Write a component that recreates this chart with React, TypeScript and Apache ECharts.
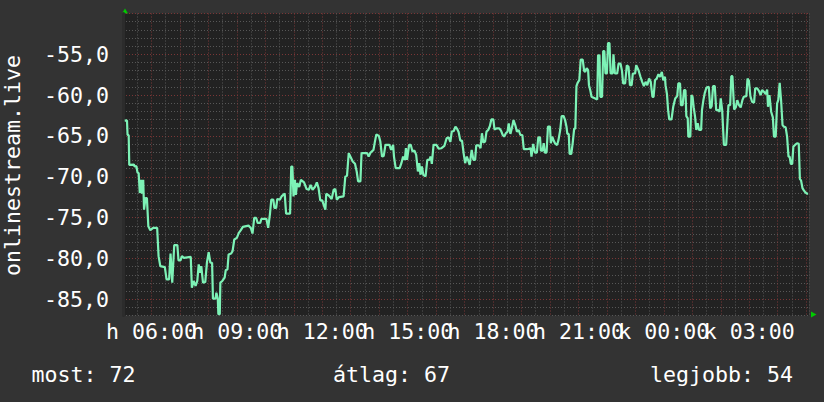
import React, { useEffect, useRef } from 'react';
import * as echarts from 'echarts';

const titleText = 'onlinestream.live';

const times: number[] = [
  5.06, 5.14, 5.16, 5.2, 5.22, 5.38, 5.41, 5.47, 5.51, 5.55, 5.59, 5.64, 5.67, 5.71, 5.74, 5.79, 5.84, 5.89, 5.96, 6.06,
  6.2, 6.25, 6.31, 6.47, 6.53, 6.62, 6.67, 6.73, 6.8, 6.91, 6.95, 7.02, 7.07, 7.14, 7.38, 7.42, 7.48, 7.55, 7.61, 7.66,
  7.71, 7.75, 7.81, 7.89, 7.95, 8.01, 8.07, 8.13, 8.16, 8.25, 8.28, 8.33, 8.35, 8.4, 8.42, 8.49, 8.57, 8.61, 8.67, 8.71,
  8.8, 8.85, 8.91, 9.0, 9.07, 9.14, 9.21, 9.41, 9.49, 9.55, 9.61, 9.68, 9.73, 9.82,
  9.86, 10.04, 10.1, 10.16, 10.21, 10.28, 10.32, 10.38, 10.42, 10.51, 10.57, 10.68, 10.73, 10.87, 10.91, 10.95, 10.99,
  11.04, 11.07, 11.12, 11.19, 11.25, 11.36, 11.45, 11.53, 11.59, 11.66, 11.74, 11.81, 11.87, 11.93, 12.0, 12.06, 12.11,
  12.14, 12.24, 12.33, 12.4, 12.46, 12.51, 12.59, 12.75, 12.81, 12.87, 12.93, 13.0, 13.07, 13.15, 13.21, 13.26, 13.34,
  13.38, 13.58, 13.63, 13.7, 13.8, 13.85, 13.9, 13.99, 14.04, 14.1, 14.16, 14.22, 14.36, 14.42,
  14.49, 14.52, 14.58, 14.72, 14.78, 14.84, 14.9, 14.94, 14.98, 15.05, 15.11, 15.17, 15.24, 15.3, 15.36, 15.41, 15.45,
  15.5, 15.55, 15.63, 15.69, 15.76, 15.81, 15.85, 15.91, 16.01, 16.09, 16.19, 16.29, 16.37, 16.44, 16.5, 16.55, 16.62,
  16.68, 16.74, 16.79, 16.85, 16.91, 16.97, 17.02, 17.08, 17.12, 17.18, 17.25, 17.31, 17.37, 17.41, 17.5, 17.56, 17.61,
  17.66, 17.72, 17.77, 17.83, 17.89, 17.94, 18.01, 18.05, 18.14, 18.22, 18.28, 18.34, 18.39, 18.45, 18.51, 18.55, 18.61,
  18.66, 18.72, 18.78, 18.84, 18.9, 18.96, 19.03, 19.08, 19.19,
  19.32, 19.35, 19.41, 19.47, 19.54, 19.59, 19.65, 19.68, 19.74, 19.78, 19.82, 19.88, 19.93, 20.0, 20.03, 20.08, 20.13,
  20.19, 20.25, 20.3, 20.36, 20.41, 20.48, 20.53, 20.58, 20.61, 20.66, 20.69, 20.75, 20.8, 20.85, 20.89, 20.93, 20.97,
  21.03, 21.08, 21.15, 21.2, 21.24, 21.29, 21.34, 21.37, 21.42, 21.46, 21.59, 21.66, 21.69, 21.74, 21.77, 21.83, 21.87,
  21.91, 21.95, 22.0, 22.04, 22.09, 22.13, 22.2, 22.23, 22.28, 22.36, 22.41, 22.48, 22.53, 22.57, 22.64, 22.7, 22.76,
  22.81, 22.87, 22.91, 22.99, 23.03, 23.11, 23.18, 23.24, 23.3, 23.36, 23.42, 23.48, 23.54, 23.6, 23.64, 23.69, 23.75,
  23.81, 23.87, 23.93, 23.98, 24.04,
  24.06, 24.11, 24.15, 24.19, 24.27, 24.33, 24.4, 24.47, 24.51, 24.57, 24.6, 24.66, 24.71, 24.76, 24.79, 24.84, 24.86,
  24.93, 24.97, 25.01, 25.05, 25.1, 25.14, 25.19, 25.24, 25.31, 25.34, 25.39, 25.44, 25.5, 25.58, 25.63, 25.68, 25.73,
  25.79, 25.84, 25.91, 25.96, 26.0, 26.05, 26.11, 26.19, 26.27, 26.33, 26.37, 26.41, 26.47, 26.53, 26.58, 26.64, 26.7,
  26.76, 26.81, 26.9, 26.94, 26.99, 27.04, 27.1, 27.17, 27.21, 27.28, 27.34, 27.4, 27.45, 27.52, 27.58, 27.63, 27.66,
  27.71, 27.77, 27.83, 27.87, 27.93, 27.98, 28.02, 28.07, 28.12, 28.17, 28.22, 28.28, 28.33, 28.38, 28.42, 28.46, 28.51,
  28.55, 28.61, 28.68, 28.74, 28.78, 28.82, 28.87, 28.92, 28.97, 29.03, 29.07,
];

const values: number[] = [
  -63.13, -63.1, -64.88, -64.9, -68.54, -68.5, -68.74, -68.7, -69.47, -69.55, -71.99, -70.37, -72.07, -70.37, -74.02,
  -72.6, -72.6, -76.06, -76.54, -76.26, -76.26, -79.72, -80.94, -81.06, -82.56, -82.56, -79.39, -82.97, -78.37, -78.37,
  -80.24, -80.24, -79.72, -79.92, -79.8, -83.58, -82.76, -83.37, -82.76, -80.73, -81.75, -80.94, -82.97, -82.89, -80.45,
  -79.23, -80.53, -80.53, -84.92, -84.92, -84.19, -84.92, -86.83, -86.83, -82.97, -82.76, -82.36, -81.42, -81.34, -79.51,
  -79.39, -79.11, -77.68, -77.48, -76.87, -76.54, -76.14, -75.98, -76.26, -76.95, -75.04, -75.04, -75.65, -75.65,
  -75.16, -75.16, -76.26, -74.63, -72.8, -72.8, -73.82, -73.82, -72.72, -72.8, -72.4, -72.07, -74.51, -74.51, -68.74,
  -68.74, -72.4, -70.37, -72.2, -70.77, -71.26, -70.37, -70.69, -71.5, -71.59, -70.98, -71.59, -71.26, -70.69, -71.38,
  -72.89, -72.89, -73.54, -74.02, -72.07, -72.32, -72.72, -71.59, -71.5, -72.8, -72.48, -72.4, -69.96, -69.88, -67.11,
  -67.6, -68.13, -68.41, -69.35, -70.57, -70.57, -67.11, -67.11, -67.52, -67.03, -66.71, -65.69, -64.8, -65.0, -65.69,
  -67.52, -67.44, -66.1, -66.1, -66.71,
  -66.1, -67.52, -68.94, -68.94, -68.33, -67.52, -67.93, -66.5, -67.93, -66.1, -66.1, -66.91, -66.79, -67.32, -69.35,
  -68.33, -69.75, -68.74, -69.75, -69.96, -67.93, -67.93, -67.52, -68.41, -66.1, -66.1, -66.54, -66.5, -66.22, -65.28,
  -65.16, -65.73, -64.47, -64.39, -63.86, -64.14, -64.51, -65.57, -65.57, -67.19, -68.33, -67.52, -67.93, -68.54, -66.71,
  -67.93, -67.93, -66.14, -66.14, -66.5, -64.67, -65.81, -65.69, -64.47, -64.27, -63.78, -62.97, -62.97, -64.19, -64.06,
  -64.06, -64.35, -64.88, -65.08, -64.67, -64.47, -63.45, -64.75, -64.06, -63.05, -63.66, -64.47, -64.27, -64.88, -64.88,
  -66.62, -66.62,
  -66.5, -67.52, -65.97, -67.03, -67.03, -65.16, -65.16, -66.79, -66.79, -65.89, -67.03, -67.03, -63.86, -63.86, -65.89,
  -65.08, -65.57, -65.97, -66.1, -65.48, -64.27, -62.56, -62.56, -63.05, -63.86, -64.75, -64.75, -67.19, -67.19, -65.81,
  -64.1, -64.1, -58.9, -58.49, -58.17, -55.65, -55.65, -57.03, -57.15, -56.7, -56.95, -58.78, -59.47, -60.2, -60.4,
  -60.53, -55.12, -55.12, -60.2, -60.2, -54.59, -54.59, -57.35, -57.35, -53.61, -53.61, -57.35, -57.35, -55.0, -57.35,
  -57.35, -56.14, -56.14, -57.03, -58.57, -58.57, -56.34, -56.54, -58.78, -58.78, -57.35, -57.35, -56.34, -56.95, -57.76,
  -58.37, -58.9, -58.37, -58.78, -57.97, -58.37, -60.2, -60.2, -58.17, -57.97, -57.44, -57.76, -57.15, -58.17, -57.76,
  -58.78, -59.87, -61.83, -62.96, -62.96, -61.42, -60.4, -60.12, -58.57, -58.57, -61.22, -61.22, -59.39, -59.39, -62.56,
  -62.84, -65.08, -65.08, -60.0, -60.2, -61.5, -62.72, -64.27, -63.45, -64.27, -64.27, -61.83, -60.61, -59.71, -59.06,
  -58.98, -61.62, -61.34, -58.9, -58.9, -61.83, -61.83, -62.03, -60.4, -61.83, -66.1, -66.1, -61.22, -61.22, -57.68,
  -57.68, -61.75, -61.5, -60.61, -61.22, -61.5, -60.61, -60.2, -60.12, -57.96, -58.25, -60.12, -60.81, -60.93, -59.18,
  -59.18, -59.47, -60.0, -59.39, -59.59, -59.87, -59.31, -61.42, -60.0, -62.03, -62.72, -65.08, -65.08, -61.01, -60.61,
  -58.49, -60.69, -63.66, -63.86, -63.94, -65.08, -67.52, -67.52, -68.41, -68.41, -66.3, -66.1, -65.89, -65.97, -70.28,
  -70.44, -71.38, -71.66, -71.91, -72.07, -72.07,
];

const xTickHours: number[] = [6, 9, 12, 15, 18, 21, 24, 27];
const dayLabels: string[] = ['h', 'k'];
const yTickValues: number[] = [-85, -80, -75, -70, -65, -60, -55];
const legendLabels: string[] = ['most', 'átlag', 'legjobb'];
const legendValues: number[] = [72, 67, 54];

const FONT = 'DejaVu Sans Mono';
const FS = 21.6;
const MINOR = '#575757';
const MAJOR = '#7a3636';

export default function App() {
  const ref = useRef<HTMLDivElement>(null);
  useEffect(() => {
    document.body.style.margin = '0';
    if (!ref.current) return;
    const chart = echarts.init(ref.current, null, { renderer: 'svg' });
    const pad = (n: number) => (n < 10 ? '0' + n : '' + n);
    const data = times.map((t, i) => [t, values[i]]);
    const legendText = (i: number, x: number, align: string) => ({
      type: 'text',
      x,
      y: 374,
      style: {
        text: `${legendLabels[i]}: ${legendValues[i]}`,
        fill: '#ffffff',
        font: `${FS}px "${FONT}"`,
        align,
        verticalAlign: 'middle',
      },
    });
    chart.setOption({
      animation: false,
      backgroundColor: '#333333',
      textStyle: { fontFamily: FONT },
      grid: {
        left: 123,
        right: 15,
        top: 13.5,
        bottom: 86.4,
        show: true,
        backgroundColor: '#222222',
        borderWidth: 0,
      },
      xAxis: {
        type: 'value',
        min: 5,
        max: 29.1,
        interval: 0.5,
        axisLine: { show: false },
        axisTick: { show: false },
        axisLabel: {
          color: '#ffffff',
          fontFamily: FONT,
          fontSize: FS,
          margin: 5,
          formatter: (v: number) => {
            const t = xTickHours.find((h) => Math.abs(h - v) < 1e-6);
            if (t === undefined) return '';
            return `${dayLabels[t < 24 ? 0 : 1]} ${pad(t % 24)}:00`;
          },
        },
        splitLine: {
          show: true,
          lineStyle: { color: [MAJOR, MINOR], type: [1, 2], width: 1 },
        },
      },
      yAxis: {
        type: 'value',
        min: -87,
        max: -50,
        interval: 1,
        axisLine: { show: true, lineStyle: { color: '#2c2c2c', width: 3 } },
        axisTick: { show: false },
        axisLabel: {
          color: '#ffffff',
          fontFamily: FONT,
          fontSize: FS,
          margin: 14,
          formatter: (v: number) => {
            const t = yTickValues.find((y) => Math.abs(y - v) < 1e-6);
            if (t === undefined) return '';
            return t.toFixed(1).replace('.', ',');
          },
        },
        splitLine: {
          show: true,
          lineStyle: { color: [MINOR, MINOR, MAJOR, MINOR, MINOR], type: [1, 2], width: 1 },
        },
      },
      graphic: [
        {
          type: 'text',
          x: 12,
          y: 165.5,
          rotation: Math.PI / 2,
          style: {
            text: titleText,
            fill: '#ffffff',
            font: `${FS}px "${FONT}"`,
            align: 'center',
            verticalAlign: 'middle',
          },
        },
        {
          type: 'polygon',
          shape: { points: [[125, 8.5], [122, 13.5], [128, 13.5]] },
          style: { fill: '#00cc00' },
        },
        {
          type: 'polygon',
          shape: { points: [[816.5, 314.5], [811, 311.5], [811, 317.5]] },
          style: { fill: '#00cc00' },
        },
        legendText(0, 31.5, 'left'),
        legendText(1, 333, 'left'),
        legendText(2, 793, 'right'),
      ],
      series: [
        {
          name: titleText,
          type: 'line',
          data,
          showSymbol: false,
          symbol: 'none',
          lineStyle: { color: '#7df2b6', width: 2.2 },
          emphasis: { disabled: true },
        },
      ],
    });
    return () => chart.dispose();
  }, []);
  return <div ref={ref} style={{ width: 824, height: 402 }} />;
}
